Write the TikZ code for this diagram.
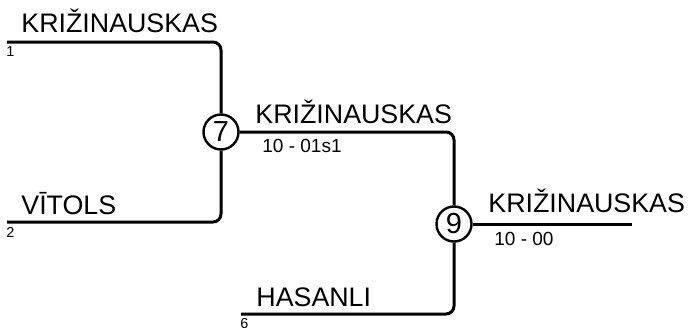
\documentclass[tikz,border=0pt]{standalone}
\usepackage{fontspec}
\setmainfont{Liberation Sans}

\tikzset{
	bline/.style={line width=1.5pt, rounded corners=4pt},
	bout/.style={circle, draw, line width=1.2pt, minimum size=17.5pt, inner sep=0pt, font=\fontsize{14.5}{16}\selectfont},
	player/.style={anchor=base west, inner sep=0pt, font=\fontsize{13.4}{15}\selectfont},
	seed/.style={anchor=north west, inner sep=0pt, font=\fontsize{7.2}{8}\selectfont},
	score/.style={anchor=north west, inner sep=0pt, font=\fontsize{9.5}{11}\selectfont}
}

\begin{document}
\begin{tikzpicture}[x=0.5pt,y=-0.5pt]
		\useasboundingbox (0,0) rectangle (690,327);

		\node[bout] (m7) at (221,132) {7};
		\node[bout] (m9) at (454,224) {9};

		\coordinate (s1) at (7,42);
		\coordinate (s2) at (7,222);
		\coordinate (s6) at (241,314);
		\coordinate (w9) at (632,224);

		\draw[bline] (s1) -| (m7);
		\draw[bline] (s2) -| (m7);
		\draw[bline] (m7) -| (m9);
		\draw[bline] (s6) -| (m9);
		\draw[bline] (m9) -- (w9);

		\node[player] (n1) at (21,32) {KRIŽINAUSKAS};
		\node[player] (n2) at (21,214) {VĪTOLS};
		\node[player] (n7) at (255,123) {KRIŽINAUSKAS};
		\node[player] (n6) at (256,306) {HASANLI};
		\node[player] (n9) at (488,212) {KRIŽINAUSKAS};

		\node[seed] (d1) at (6,46) {1};
		\node[seed] (d2) at (6,227) {2};
		\node[seed] (d6) at (240,318) {6};

		\node[score] (r7) at (262,139) {10 - 01s1};
		\node[score] (r9) at (494,232) {10 - 00};

	\end{tikzpicture}
\end{document}
